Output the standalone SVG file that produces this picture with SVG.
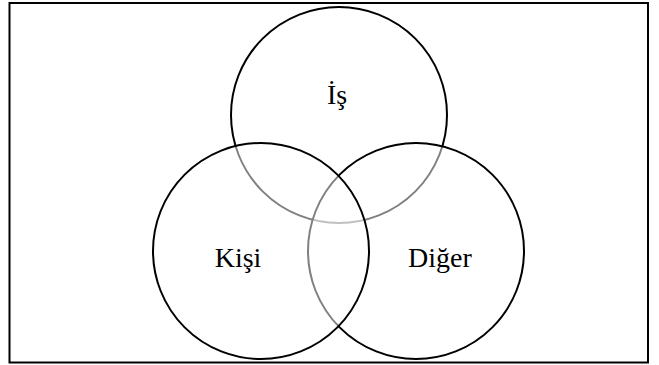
<svg xmlns="http://www.w3.org/2000/svg" width="659" height="365" viewBox="0 0 659 365">
<style>
.c{fill:#fff;fill-opacity:0.5;stroke:#000;stroke-width:2}
.t{font-family:"Liberation Serif","Times New Roman",serif;font-size:28px;fill:#000;text-anchor:middle}
</style>
<rect width="659" height="365" fill="#fff"/>
<rect x="9.5" y="3" width="638.5" height="359.5" fill="none" stroke="#000" stroke-width="2"/>
<g id="is"><circle class="c" cx="339" cy="115" r="108"/><text class="t" x="337" y="104">İş</text></g>
<g id="diger"><circle class="c" cx="416" cy="251" r="108"/><text class="t" x="440" y="267">Diğer</text></g>
<g id="kisi"><circle class="c" cx="261" cy="251" r="108"/><text class="t" x="238" y="267">Kişi</text></g>
<g id="connectors"/>
</svg>
